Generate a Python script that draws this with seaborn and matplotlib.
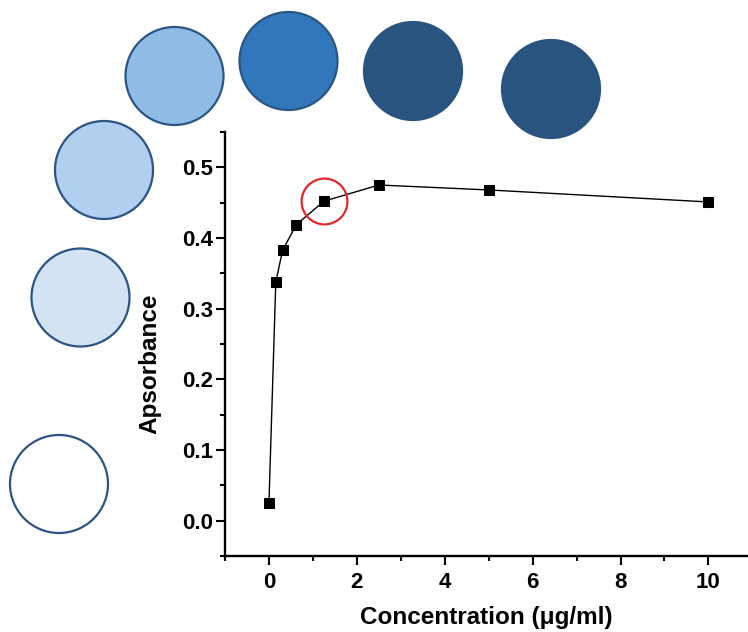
import matplotlib
matplotlib.use("Agg")
import matplotlib.pyplot as plt
from matplotlib.patches import Circle
from matplotlib.ticker import MultipleLocator
import seaborn as sns
import pandas as pd

# data
concentration = [0, 0.156, 0.3125, 0.625, 1.25, 2.5, 5, 10]
absorbance = [0.025, 0.338, 0.383, 0.419, 0.452, 0.475, 0.468, 0.451]
highlight_index = 4

# colour swatches shown around the plot (low -> high concentration)
swatch_colors = ["#ffffff", "#d3e3f4", "#b1d0ef", "#8fbbe4", "#3277bb", "#2a5480", "#2a5480"]
swatch_edges = ["#2b5585", "#2b5585", "#2b5585", "#2b5585", "#2b5585", "#2a5480", "#2a5480"]
swatch_centers = [(59, 484), (80.5, 297.5), (104, 170), (174.5, 76), (288.5, 61), (413, 71), (551, 89)]
swatch_radius = 49

sns.set_style("ticks")
plt.rcParams['font.family'] = ['Liberation Sans', 'DejaVu Sans']
plt.rcParams.update({"text.color": "black", "axes.labelcolor": "black",
                     "xtick.color": "black", "ytick.color": "black",
                     "axes.edgecolor": "black"})

W, H = 748, 632
fig = plt.figure(figsize=(W / 100, H / 100), dpi=100)

# background layer in pixel coordinates for the swatches
bg = fig.add_axes([0, 0, 1, 1], zorder=0)
bg.set_xlim(0, W)
bg.set_ylim(H, 0)
bg.axis("off")
for (cx, cy), fc, ec in zip(swatch_centers, swatch_colors, swatch_edges):
    bg.add_patch(Circle((cx, cy), swatch_radius, facecolor=fc, edgecolor=ec, linewidth=1.6))

ax = fig.add_axes([225 / W, 1 - 556 / H, 1 - 225 / W, (556 - 132) / H], zorder=1)
ax.set_facecolor("none")

df = pd.DataFrame({"Concentration": concentration, "Absorbance": absorbance})
sns.lineplot(data=df, x="Concentration", y="Absorbance", ax=ax, color="black", linewidth=1.0,
             marker="s", markersize=6.5, markeredgecolor="black", markerfacecolor="black")
ax.plot(concentration[highlight_index], absorbance[highlight_index], marker="o", markersize=33,
        markerfacecolor="none", markeredgecolor="#e5262a", markeredgewidth=1.6)

ax.set_xlim(-1, 10.9)
ax.set_ylim(-0.05, 0.55)
ax.xaxis.set_major_locator(MultipleLocator(2))
ax.xaxis.set_minor_locator(MultipleLocator(1))
ax.yaxis.set_major_locator(MultipleLocator(0.1))
ax.yaxis.set_minor_locator(MultipleLocator(0.05))
ax.set_xticks([0, 2, 4, 6, 8, 10])
ax.set_xticklabels(["0", "2", "4", "6", "8", "10"])

sns.despine(ax=ax)
for s in ["left", "bottom"]:
    ax.spines[s].set_linewidth(1.7)
    ax.spines[s].set_color("black")
ax.tick_params(which="major", length=6.5, width=1.5, labelsize=16, colors="black")
ax.tick_params(which="minor", length=3.6, width=1.5, colors="black")
ax.tick_params(axis="y", which="major", pad=2)
ax.tick_params(axis="x", which="major", pad=5)
for lab in ax.get_xticklabels() + ax.get_yticklabels():
    lab.set_fontweight("bold")

ax.set_xlabel("Concentration (\u03bcg/ml)", fontsize=17.5, fontweight="bold", color="black")
ax.set_ylabel("Apsorbance", fontsize=17.5, fontweight="bold", color="black")
ax.xaxis.set_label_coords(0.5, -0.118)
ax.yaxis.set_label_coords(-0.122, 0.454)

fig.savefig("out.png", dpi=100)
plt.close(fig)
